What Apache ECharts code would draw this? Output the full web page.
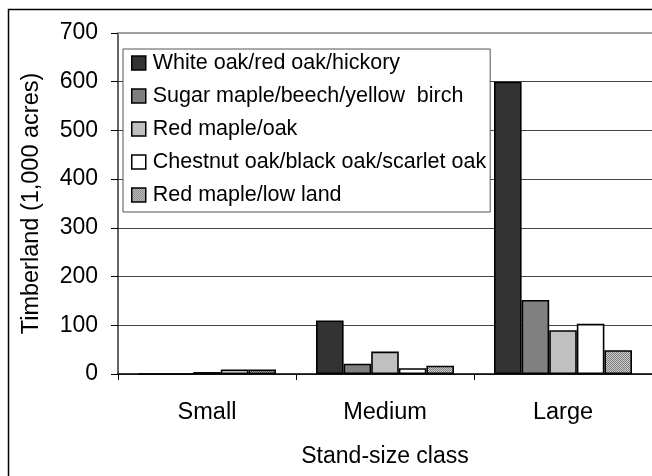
<!DOCTYPE html>
<html>
<head>
<meta charset="utf-8">
<script src="https://cdn.jsdelivr.net/npm/echarts@6/dist/echarts.min.js"></script>
<style>
html,body{margin:0;padding:0;background:#fff;}
#chart{width:652px;height:476px;}
</style>
</head>
<body>
<div id="chart"></div>
<script>
var categories = ['Small', 'Medium', 'Large'];
var seriesNames = [
  'White oak/red oak/hickory',
  'Sugar maple/beech/yellow  birch',
  'Red maple/oak',
  'Chestnut oak/black oak/scarlet oak',
  'Red maple/low land'
];
var whiteOak = [0, 110, 600];
var sugarMaple = [0, 21, 152];
var redMapleOak = [4, 46, 90];
var chestnutOak = [9, 12, 103];
var redMapleLowland = [9, 17, 49];
var yTicks = [0, 100, 200, 300, 400, 500, 600, 700];

var pc = document.createElement('canvas');
pc.width = 2; pc.height = 2;
var ctx = pc.getContext('2d');
ctx.fillStyle = '#cccccc'; ctx.fillRect(0,0,2,2);
ctx.fillStyle = '#7e7e7e'; ctx.fillRect(0,0,1,1); ctx.fillRect(1,1,1,1);

var fills = ['#333333', '#808080', '#c0c0c0', '#ffffff', {image: pc, repeat: 'repeat'}];
var dataSets = [whiteOak, sugarMaple, redMapleOak, chestnutOak, redMapleLowland];
var font = 'Liberation Sans, Arial, sans-serif';

var series = dataSets.map(function (d, i) {
  var s = {
    name: seriesNames[i],
    type: 'bar',
    data: d,
    barWidth: 27.6,
    barGap: '0%',
    itemStyle: {color: fills[i], borderColor: '#000', borderWidth: 1.6},
    emphasis: {disabled: true},
    animation: false
  };
  if (i === 0) {
    s.markLine = {
      silent: true, symbol: 'none', label: {show: false},
      lineStyle: {color: '#a0a0a0', width: 2, type: 'solid'},
      data: [{yAxis: yTicks[yTicks.length - 1]}],
      animation: false
    };
  }
  return s;
});

var chart = echarts.init(document.getElementById('chart'), null, {renderer: 'canvas'});
chart.setOption({
  backgroundColor: '#fff',
  animation: false,
  graphic: [{
    type: 'rect', silent: true, z: -10,
    shape: {x: 8.5, y: 9.5, width: 700, height: 500},
    style: {fill: 'none', stroke: '#000', lineWidth: 1.5}
  }],
  grid: {left: 118, top: 33, bottom: 102, width: 538},
  legend: {
    orient: 'vertical',
    left: 123, top: 49,
    padding: [3, 4, 6, 8],
    itemWidth: 14, itemHeight: 14,
    itemGap: 11,
    icon: 'rect',
    backgroundColor: '#fff',
    borderColor: '#555', borderWidth: 1,
    itemStyle: {borderColor: '#000', borderWidth: 1.5},
    textStyle: {fontFamily: font, fontSize: 21.5, color: '#000', lineHeight: 20, padding: [0,0,0,2]},
    data: seriesNames,
    selectedMode: false,
    z: 20
  },
  xAxis: {
    type: 'category',
    data: categories,
    name: 'Stand-size class',
    nameLocation: 'middle',
    nameGap: 71,
    nameTextStyle: {fontFamily: font, fontSize: 23, color: '#000'},
    axisLine: {lineStyle: {color: '#000', width: 1.5}},
    axisTick: {show: true, length: 6, lineStyle: {color: '#000', width: 1}},
    axisLabel: {fontFamily: font, fontSize: 23.5, color: '#000', margin: 27}
  },
  yAxis: {
    type: 'value',
    min: 0, max: 700, interval: 100,
    name: 'Timberland (1,000 acres)',
    nameLocation: 'middle',
    nameGap: 74,
    nameTextStyle: {fontFamily: font, fontSize: 23.5, color: '#000'},
    axisLine: {show: true, lineStyle: {color: '#333', width: 1.5}},
    axisTick: {show: true, length: 7, lineStyle: {color: '#000', width: 1}},
    axisLabel: {fontFamily: font, fontSize: 23, color: '#000', margin: 20},
    splitLine: {show: true, lineStyle: {color: '#444', width: 1}}
  },
  series: series
});
</script>
</body>
</html>
